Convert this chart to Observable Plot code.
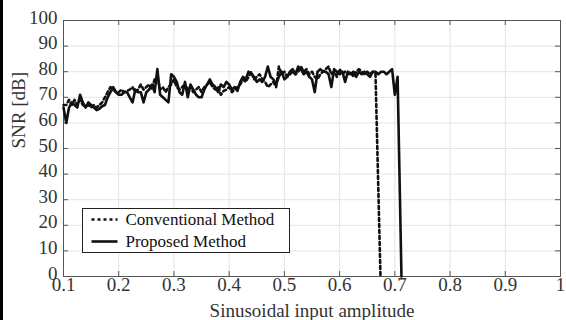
<!DOCTYPE html>
<html>
<head>
<meta charset="utf-8">
<script src="https://cdn.jsdelivr.net/npm/d3@7"></script>
<script src="https://cdn.jsdelivr.net/npm/@observablehq/plot@0.6"></script>
<style>
  html, body { margin: 0; padding: 0; background: #fff; }
  #wrap { position: relative; width: 566px; height: 320px; overflow: hidden; background: #fff; }
  #edge { position: absolute; left: 0; top: 0; width: 3px; height: 320px; background: #000; }
  #wrap svg text.lgtext { font-family: "Liberation Serif", serif !important; font-size: 17px !important; }
</style>
</head>
<body>
<div id="wrap"><div id="edge"></div></div>
<script>
// ---- data ----
const amplitudeStart = 0.1;      // first sampled amplitude
const amplitudeStep = 0.005;     // sampling step of the sweep
const xTicks = [0.1, 0.2, 0.3, 0.4, 0.5, 0.6, 0.7, 0.8, 0.9, 1];
const yTicks = [0, 10, 20, 30, 40, 50, 60, 70, 80, 90, 100];
const seriesNames = ["Conventional Method", "Proposed Method"];

const conventionalSNR = [
  67, 67, 69, 67, 69, 67, 69, 67, 66.5, 67,
  66, 67, 66, 67, 68, 70, 72, 74, 73, 72,
  72, 73, 72, 72.5, 73, 74, 72, 73, 75, 73,
  74, 75, 73, 77, 78, 73, 74, 72, 74, 75,
  77, 74, 73, 74, 75, 73, 74, 72, 73, 74,
  72, 74, 75, 76, 74, 73, 74, 71, 72.5, 73,
  74, 72, 73, 74, 75, 77, 76, 78, 80, 77,
  78, 79, 77, 76, 74, 75, 76, 74, 82, 79,
  80, 78, 79, 80, 79, 80, 82, 80, 81, 79,
  80, 78, 77, 79, 80, 81, 82, 79, 80, 78,
  81, 79, 80, 79, 80, 78, 80, 81, 80, 79,
  80, 79, 80, 79
];
const proposedSNR = [
  66, 60, 66, 68, 67, 66, 71, 68, 66, 68,
  67, 66, 65, 65.5, 66.5, 67, 70, 72, 74, 72,
  71, 71, 72, 72, 70, 68, 73, 72, 72, 68,
  72, 73, 75, 72, 81, 71, 70, 69, 68, 79,
  78, 76, 72, 71, 76, 70, 75, 73, 71, 70,
  70, 73, 75, 77, 75, 74, 72, 75, 74, 76,
  75, 73, 74, 72.5, 76, 78, 77, 80, 79, 78,
  76, 77, 76, 78, 82, 78, 77, 75, 78, 80,
  77, 78, 80, 81, 79, 82, 81, 79, 80, 78,
  77, 72, 80, 81, 80, 80, 79, 74, 81, 80,
  79, 80, 76, 80, 79, 80, 78, 80, 79, 80,
  79, 78, 80, 80, 79, 80, 80, 79, 80, 81,
  71, 78
];
// amplitude at which each method collapses to 0 dB
const collapseAmplitude = [0.674, 0.712];
const collapseSNR = [0, 0];

// ---- build tables ----
function series(values, endAmp, endSnr) {
  const rows = values.map((v, i) => ({ amp: amplitudeStart + i * amplitudeStep, snr: v }));
  rows.push({ amp: endAmp, snr: endSnr });
  return rows;
}
const conventional = series(conventionalSNR, collapseAmplitude[0], collapseSNR[0]);
const proposed = series(proposedSNR, collapseAmplitude[1], collapseSNR[1]);

const W = 566, H = 320, mL = 63, mR = 6, mT = 20, mB = 44;
const innerW = W - mL - mR, innerH = H - mT - mB;
const tickLen = 5;
const axisCol = "#555";
const gridCol = "#e4e4e4";
const lineCol = "#111";
const serif = "Liberation Serif, serif";

const chart = Plot.plot({
  width: W, height: H,
  marginLeft: mL, marginRight: mR, marginTop: mT, marginBottom: mB,
  x: { domain: [0.1, 1] },
  y: { domain: [0, 100] },
  style: { fontFamily: serif, fontSize: "19px", color: "#333", background: "transparent" },
  marks: [
    Plot.ruleX(xTicks, { stroke: gridCol, strokeWidth: 1 }),
    Plot.ruleY(yTicks, { stroke: gridCol, strokeWidth: 1 }),
    // inward ticks on all four sides
    Plot.ruleX(xTicks, { stroke: axisCol, insetTop: innerH - tickLen }),
    Plot.ruleX(xTicks, { stroke: axisCol, insetBottom: innerH - tickLen }),
    Plot.ruleY(yTicks, { stroke: axisCol, insetRight: innerW - tickLen }),
    Plot.ruleY(yTicks, { stroke: axisCol, insetLeft: innerW - tickLen }),
    Plot.frame({ stroke: axisCol, strokeWidth: 1 }),
    Plot.axisX(xTicks, {
      tickSize: 0, tickPadding: 1, tickFormat: d => String(d),
      label: "Sinusoidal input amplitude", labelAnchor: "center", labelOffset: 40, labelArrow: "none"
    }),
    Plot.axisY(yTicks, {
      tickSize: 0, tickPadding: 6, dy: -3, tickFormat: d => String(d),
      label: null
    }),
    Plot.text(["SNR [dB]"], { frameAnchor: "left", dx: -45, rotate: -90, fontSize: 19, fill: "#333" }),
    Plot.line(conventional, { x: "amp", y: "snr", stroke: lineCol, strokeWidth: 2.6, strokeDasharray: "3,3", strokeLinejoin: "round" }),
    Plot.line(proposed, { x: "amp", y: "snr", stroke: lineCol, strokeWidth: 2.6, strokeLinejoin: "round" })
  ]
});

document.getElementById("wrap").appendChild(chart);

// ---- legend (inside plot, lower left) ----
const svg = d3.select(chart);
const lg = svg.append("g").attr("transform", "translate(82.5,208.5)")
  .attr("font-family", serif).attr("font-size", 17);
lg.append("rect").attr("width", 207).attr("height", 44)
  .attr("fill", "#fff").attr("stroke", "#222").attr("stroke-width", 1);
const rows = [
  { name: seriesNames[0], dash: "3,3", y: 11 },
  { name: seriesNames[1], dash: null, y: 33 }
];
rows.forEach(r => {
  const l = lg.append("line").attr("x1", 9).attr("x2", 35).attr("y1", r.y).attr("y2", r.y)
    .attr("stroke", lineCol).attr("stroke-width", 2.6);
  if (r.dash) l.attr("stroke-dasharray", r.dash);
  lg.append("text").attr("class", "lgtext").attr("x", 43).attr("y", r.y).attr("dy", "0.35em")
    .attr("text-anchor", "start").attr("fill", "#111")
    .text(r.name);
});
</script>
</body>
</html>
